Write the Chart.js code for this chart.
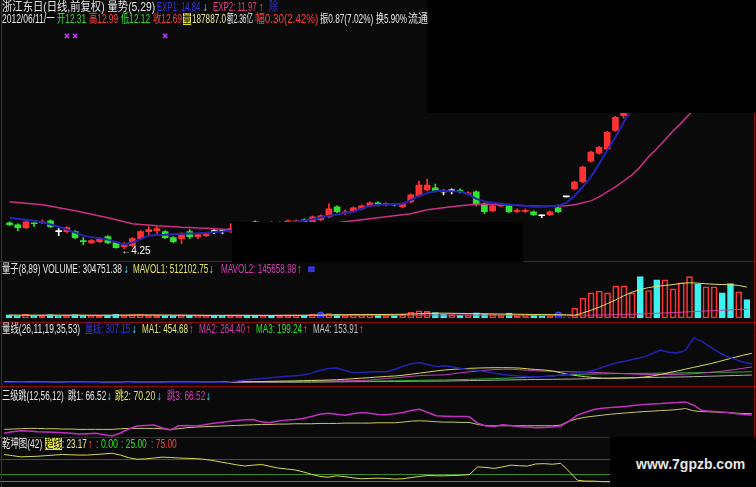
<!DOCTYPE html>
<html><head><meta charset="utf-8">
<script src="https://cdn.jsdelivr.net/npm/chart.js@4.4.1/dist/chart.umd.min.js"></script>
<style>
html,body{margin:0;padding:0;background:#0b0a0a;}
#wrap{position:relative;width:756px;height:487px;overflow:hidden;background:#0b0a0a;font-family:"Liberation Sans","Noto Sans CJK SC",sans-serif;}
canvas{position:absolute;left:0;}
.t{position:absolute;white-space:nowrap;line-height:12px;font-size:12px;transform-origin:0 0;}
.hl{position:absolute;left:0;width:756px;height:1px;background:#8c0c0c;}
.vl{position:absolute;top:0;width:1px;height:487px;background:#8c0c0c;}
.box{position:absolute;background:#000;}
</style></head><body><div id="wrap">
<canvas id="cMain" width="756" height="262" style="top:0px"></canvas>
<canvas id="cVol" width="756" height="61" style="top:262px"></canvas>
<canvas id="cQx" width="756" height="64" style="top:323px"></canvas>
<canvas id="cJump" width="756" height="51" style="top:387px"></canvas>
<canvas id="cQk" width="756" height="49" style="top:438px"></canvas>
<div class="hl" style="top:261px"></div>
<div class="hl" style="top:322px"></div>
<div class="hl" style="top:386px"></div>
<div class="hl" style="top:437px"></div>
<div class="vl" style="left:1px"></div>
<div class="vl" style="left:754px"></div>
<div class="box" style="left:427px;top:0px;width:329px;height:113px"></div>
<div class="box" style="left:232px;top:222px;width:291px;height:40px"></div>
<div class="box" style="left:610px;top:437px;width:146px;height:50px"><div style="position:absolute;left:26px;top:19px;color:#e6e6e6;font:bold 14px 'Liberation Sans',sans-serif">www.7gpzb.com</div></div>
<div id="texts"></div>
</div>
<script>
// ---------- data ----------
const days = Array.from({length: 91}, (_, i) => 'D' + (i + 1));
const open = [5.29,5.21,5.09,5.29,5.29,5.37,4.93,4.93,4.93,4.57,
 4.49,4.53,4.73,4.49,4.33,4.37,4.65,4.93,4.97,4.93,
 4.69,4.65,4.93,4.73,4.77,4.93,4.93,4.93,5.05,5.17,
 5.33,5.21,5.29,5.21,5.29,5.29,5.41,5.33,5.41,5.53,
 5.93,5.69,5.73,5.85,5.97,6.07,6.01,6.05,5.93,6.13,
 6.37,6.61,6.69,6.53,6.57,6.59,6.45,6.53,6.05,5.77,
 5.97,5.97,5.75,5.75,5.73,5.57,5.61,5.89,6.33,6.65,
 6.93,7.77,8.09,8.25,9.01,9.60,10.10,10.70,10.40,11.10,
 10.80,11.50,11.90,12.20,12.60,12.10,12.40,12.70,12.30,12.00,
 12.31];
const high = [5.33,5.25,5.37,5.29,5.41,5.41,5.05,5.13,4.97,4.69,
 4.61,4.69,4.77,4.53,4.49,4.69,4.97,5.13,5.17,4.97,
 4.73,4.89,5.01,4.85,4.89,5.01,5.01,5.25,5.17,5.21,
 5.37,5.29,5.33,5.33,5.41,5.41,5.45,5.57,5.61,6.05,
 5.97,5.81,5.93,6.01,6.13,6.13,6.09,6.07,6.09,6.45,
 6.97,7.05,6.85,6.61,6.65,6.65,6.53,6.57,6.09,6.01,
 6.05,6.01,5.85,5.85,5.77,5.61,5.77,6.01,6.33,6.97,
 7.57,8.17,8.37,8.97,9.57,10.20,10.70,10.90,11.20,11.30,
 11.60,12.00,12.40,12.80,12.70,12.60,12.90,12.80,12.40,12.50,
 12.99];
const low = [5.17,4.97,5.05,5.13,5.25,5.09,4.77,4.89,4.65,4.41,
 4.45,4.49,4.45,4.27,4.25,4.33,4.61,4.81,4.85,4.65,
 4.49,4.45,4.65,4.65,4.73,4.85,4.85,4.89,5.01,5.05,
 5.21,5.17,5.17,5.17,5.25,5.25,5.29,5.29,5.37,5.49,
 5.69,5.61,5.69,5.81,5.93,5.97,5.97,5.97,5.89,6.09,
 6.33,6.57,6.53,6.41,6.45,6.49,6.41,5.97,5.65,5.73,
 5.93,5.69,5.69,5.69,5.57,5.49,5.57,5.69,6.33,6.61,
 6.89,7.73,8.05,8.21,8.97,9.50,10.00,10.30,10.30,10.70,
 10.70,11.30,11.70,12.00,12.00,11.90,12.20,12.20,11.80,11.90,
 12.12];
const close = [5.21,5.09,5.33,5.25,5.33,5.13,4.93,5.09,4.69,4.53,
 4.57,4.65,4.49,4.29,4.45,4.65,4.93,5.01,5.05,4.69,
 4.53,4.85,4.73,4.81,4.85,4.93,4.93,5.05,5.13,5.09,
 5.25,5.25,5.21,5.29,5.37,5.37,5.33,5.53,5.57,5.85,
 5.73,5.73,5.89,5.97,6.09,6.05,6.07,6.01,6.05,6.41,
 6.81,6.81,6.57,6.53,6.57,6.55,6.49,6.05,5.73,5.97,
 6.01,5.73,5.77,5.77,5.61,5.57,5.73,5.73,6.33,6.93,
 7.53,8.13,8.33,8.93,9.53,10.10,10.60,10.40,11.10,10.80,
 11.50,11.90,12.20,12.60,12.10,12.40,12.70,12.30,12.00,12.39,
 12.69];
const exp1 = [5.49,5.45,5.41,5.37,5.31,5.22,5.13,5.01,4.89,4.77,
 4.71,4.66,4.61,4.51,4.41,4.49,4.63,4.77,4.80,4.81,
 4.83,4.85,4.86,4.87,4.89,4.92,4.94,4.97,5.03,5.08,
 5.13,5.17,5.21,5.25,5.29,5.33,5.37,5.43,5.50,5.57,
 5.62,5.68,5.73,5.85,5.97,6.00,6.02,6.04,6.05,6.20,
 6.37,6.48,6.57,6.57,6.56,6.55,6.45,6.25,6.15,6.09,
 6.05,6.02,5.99,5.96,5.93,5.93,5.95,5.97,6.09,6.37,
 6.73,7.13,7.65,8.21,8.73,9.33,9.85,10.30,10.80,11.20,
 11.60,12.00,12.40,12.80,13.10,13.40,13.70,14.00,14.25,14.55,
 14.84];
const exp2 = [6.13,6.10,6.07,6.04,6.01,5.95,5.89,5.83,5.77,5.70,
 5.63,5.56,5.49,5.41,5.33,5.25,5.22,5.20,5.17,5.15,
 5.13,5.11,5.10,5.08,5.07,5.05,5.03,5.01,5.02,5.03,
 5.05,5.06,5.08,5.09,5.12,5.14,5.17,5.20,5.23,5.25,
 5.29,5.33,5.37,5.41,5.45,5.49,5.53,5.57,5.61,5.65,
 5.73,5.81,5.85,5.89,5.93,5.97,6.00,6.03,6.03,6.02,
 6.01,6.00,5.99,5.97,5.96,5.95,5.95,5.96,5.97,6.01,
 6.09,6.17,6.33,6.53,6.73,6.97,7.21,7.53,7.93,8.25,
 8.61,8.97,9.29,9.65,10.00,10.35,10.70,11.00,11.30,11.65,
 11.97];
const topMarks = [7, 8, 19];
const vol = [52000,38000,61000,35000,42000,55000,33000,47000,58000,36000,
 30000,41000,50000,62000,45000,57000,66000,48000,43000,39000,
 35000,52000,44000,31000,34000,37000,33000,49000,45000,40000,
 38000,36000,41000,44000,47000,50000,42000,60000,58000,75000,
 55000,48000,62000,58000,66000,52000,47000,45000,60000,95000,
 120000,110000,90000,60000,55000,50000,52000,85000,70000,58000,
 45000,80000,42000,40000,50000,35000,38000,55000,15000,163000,
 331000,418000,448000,418000,533000,533000,418000,686000,457000,635000,
 635000,483000,585000,686000,559000,518000,518000,418000,570000,433000,
 304751.38];
const volDir = [-1,-1,1,-1,1,-1,-1,1,-1,-1,
 1,1,-1,-1,1,1,1,1,1,-1,
 -1,1,-1,1,1,-1,-1,1,1,-1,
 -1,1,-1,1,1,1,-1,1,1,1,
 -1,1,1,1,1,-1,1,-1,1,1,
 1,1,-1,-1,1,-1,1,-1,-1,1,
 1,-1,1,1,-1,-1,1,-1,1,1,
 1,1,1,1,1,1,1,-1,1,-1,
 1,1,1,1,-1,1,1,-1,-1,1,
 -1];
const mavol1 = [48000,48000,47000,47000,47000,48000,47000,47000,48000,47000,
 46000,45000,46000,47000,48000,49000,50000,50000,49000,48000,
 47000,46000,46000,45000,44000,43000,43000,44000,44000,44000,
 43000,43000,43000,44000,45000,45000,45000,47000,49000,52000,
 53000,54000,55000,56000,57000,57000,58000,60000,62000,66000,
 71000,76000,80000,80000,78000,76000,74000,72000,70000,68000,
 66000,64000,62000,60000,58000,56000,55000,54000,52000,45000,
 85000,130000,180000,240000,300000,370000,430000,470000,505000,525000,
 540000,555000,575000,585000,578000,568000,560000,556000,552000,540000,
 512102.75];
const mavol2 = [44000,44000,44000,44000,44000,45000,45000,45000,45000,45000,
 45000,45000,45000,45000,45000,46000,46000,46000,46000,46000,
 46000,46000,46000,46000,45000,45000,45000,45000,45000,45000,
 45000,45000,45000,45000,45000,45000,45000,45000,45000,46000,
 46000,46000,46000,46000,46000,46000,46000,46000,46000,47000,
 47000,48000,48000,48000,48000,48000,48000,48000,48000,48000,
 48000,48000,48000,48000,47000,47000,47000,46000,46000,46000,
 47000,48000,50000,52000,55000,58000,61000,66000,72000,78000,
 84000,90000,96000,103000,110000,117000,123000,129000,135000,140000,
 145658.98];
const volMarks = [38, 67];
const qxLine = [55,54,56,55,53,54,56,57,55,53,
 52,54,56,58,57,55,56,58,57,56,
 55,54,53,55,56,57,55,58,70,85,
 95,105,115,125,135,145,155,180,215,245,
 250,215,186,190,195,198,200,230,275,310,
 324,300,270,283,265,245,228,215,200,180,
 160,150,140,133,130,132,140,155,165,180,
 195,220,260,300,330,350,380,405,450,500,
 470,460,495,665,620,540,470,410,370,330,
 307.15];
const ma1 = [60,60,59,59,58,58,58,57,57,57,
 56,56,56,57,57,57,58,58,58,58,
 57,57,57,57,58,58,58,59,60,61,
 62,64,66,68,70,72,75,78,81,84,
 88,95,102,110,118,126,134,140,150,165,
 180,195,210,223,232,240,246,250,253,255,
 255,254,250,240,230,223,210,185,160,144,
 130,118,110,108,110,113,116,125,140,160,
 185,209,235,260,285,310,340,370,400,430,
 454.68];
const ma2 = [54,54,54,53,53,53,53,52,52,52,
 52,51,51,51,51,51,52,52,52,52,
 52,52,52,52,52,53,53,53,54,55,
 56,57,58,59,60,62,64,66,68,70,
 72,74,76,78,85,95,105,115,125,135,
 145,150,153,155,170,185,198,210,220,228,
 233,233,228,220,212,208,205,202,199,196,
 193,190,186,181,176,170,165,162,160,160,
 161,163,166,172,180,190,202,215,230,248,
 264.40];
const ma3 = [53,53,52,52,52,52,52,52,51,51,
 51,51,51,51,51,51,51,51,52,52,
 52,52,52,52,52,52,52,52,53,54,
 55,56,57,58,59,60,61,62,63,64,
 65,66,67,68,69,70,72,74,76,78,
 80,82,83,85,88,91,94,97,100,104,
 108,112,116,122,128,134,142,150,158,163,
 166,168,170,172,174,175,176,177,178,179,
 180,182,184,186,188,190,191,192,194,196,
 199.24];
const ma4 = [51,51,51,50,50,50,50,50,50,50,
 49,49,49,49,49,49,49,49,49,49,
 49,49,49,49,50,50,50,50,51,51,
 52,52,53,53,54,55,55,56,57,58,
 59,60,61,62,63,64,65,66,67,68,
 69,69,70,70,72,74,76,78,80,82,
 84,86,88,90,92,93,94,96,97,99,
 102,105,108,110,112,114,116,118,120,122,
 124,126,128,131,134,137,140,144,147,150,
 153.91];
const jump3 = [11,16,19,18,16,15,14,13,11,9,
 10,11,7,3,12,24,33,35,36,28,
 21,34,35,33,36,41,44,47,50,52,
 53,45,44,48,51,53,56,62,69,72,
 69,66,70,74,72,68,67,70,74,80,
 84,74,64,63,62,62,61,42,33,32,
 37,35,31,30,28,29,30,33,48,66,
 75,83,87,89,91,93,96,98,100,101,
 103,104,106,96,80,78,76,74,71,68,
 66.52];
const jump2 = [23,24,25,26,26,25,25,24,24,23,
 23,23,23,23,25,26,26,26,26,25,
 23,25,28,30,31,32,33,34,35,36,
 37,38,38,39,39,40,40,40,41,41,
 41,42,42,42,42,43,43,43,45,48,
 49,48,46,45,45,44,44,38,34,34,
 34,34,34,34,34,34,34,36,48,55,
 60,63,66,69,71,73,75,77,78,80,
 81,83,86,79,77,76,75,74,72,71,
 70.20];
const trend = [92,88,84,85,86,88,90,92,91,90,
 90,92,94,96,90,81,76,77,80,83,
 82,80,79,78,76,72,67,62,57,53,
 56,58,52,46,43,40,33,25,18,15,
 20,17,13,10,11,12,11,9,10,14,
 18,21,20,20,21,22,24,50,48,45,
 50,56,54,53,60,61,59,62,35,5,
 2,2,0,0,0,1,3,5,8,6,
 10,12,15,14,18,20,19,21,22,22,
 23.17];
const qkLevels = [0, 25, 75];

// ---------- styling ----------
const RED = '#ff3232', GREEN = '#2ee62e', WHITE = '#ffffff', CYAN = '#3ef0f0';
const last = a => a[a.length - 1];
const candleColors = close.map((c, i) => c > open[i] ? RED : c < open[i] ? GREEN : WHITE);

function lineDS(data, color, width, order) {
  return {type: 'line', data, borderColor: color, borderWidth: width, pointRadius: 0, tension: 0, fill: false, order, borderJoinStyle: 'round'};
}
function opts(min, max, padTop, padBottom, yExtra) {
  return {
    responsive: false, animation: false, events: [],
    layout: {padding: {top: padTop, bottom: padBottom, left: 0, right: 0}},
    plugins: {legend: {display: false}, tooltip: {enabled: false}},
    scales: {
      x: {type: 'category', display: false, offset: true},
      y: Object.assign({display: false, min, max}, yExtra || {})
    }
  };
}
const lowLabel = {id: 'lowLabel', afterDatasetsDraw(chart) {
  const lo = Math.min(...low), i = low.indexOf(lo);
  const x = chart.scales.x.getPixelForValue(i), y = chart.scales.y.getPixelForValue(lo);
  const ctx = chart.ctx; ctx.save();
  ctx.fillStyle = '#ffffff'; ctx.font = '10px "Liberation Sans"'; ctx.textBaseline = 'top';
  ctx.fillText('\u2190' + lo.toFixed(2), x - 3, y - 2); ctx.restore();
}};

new Chart(document.getElementById('cMain'), {
  type: 'bar',
  data: {labels: days, datasets: [
    lineDS(exp1, '#2424b8', 2, 0),
    lineDS(exp2, '#cc2f86', 1.5, 0),
    {type: 'line', data: days.map((_, i) => topMarks.includes(i) ? 12.81 : null), showLine: false,
     pointStyle: 'crossRot', pointRadius: 3, borderColor: '#c040ff', borderWidth: 1.5, order: 0},
    {type: 'bar', data: open.map((o, i) => [o, close[i]]), backgroundColor: candleColors,
     barThickness: 6, grouped: false, minBarLength: 1, order: 2},
    {type: 'bar', data: low.map((l, i) => [l, high[i]]), backgroundColor: candleColors,
     barThickness: 1, grouped: false, order: 3}
  ]},
  options: opts(3.93, 13.13, 28, 4),
  plugins: [lowLabel]
});

new Chart(document.getElementById('cVol'), {
  type: 'bar',
  data: {labels: days, datasets: [
    lineDS(mavol1, '#e0e060', 1, 0),
    lineDS(mavol2, '#d040a0', 1, 0),
    {type: 'line', data: days.map((_, i) => volMarks.includes(i) ? 40000 : null), showLine: false,
     pointStyle: 'circle', pointRadius: 3.5, backgroundColor: '#2020ff', borderColor: '#5050ff', order: 0},
    {type: 'bar', data: vol, backgroundColor: volDir.map(d => d < 0 ? CYAN : 'rgba(0,0,0,0)'),
     borderColor: volDir.map(d => d < 0 ? CYAN : RED), borderWidth: 1, borderSkipped: false,
     barThickness: 6, grouped: false, order: 2}
  ]},
  options: opts(0, 746760, 11, 1)
});

new Chart(document.getElementById('cQx'), {
  type: 'line',
  data: {labels: days, datasets: [
    lineDS(qxLine, '#2222b4', 1.5, 0),
    lineDS(ma1, '#d8d860', 1, 1),
    lineDS(ma2, '#c040c0', 1, 2),
    lineDS(ma3, '#30b030', 1, 3),
    lineDS(ma4, '#b0b0b0', 1, 4)
  ]},
  options: opts(1.4, 694.4, 13, 1)
});

new Chart(document.getElementById('cJump'), {
  type: 'line',
  data: {labels: days, datasets: [
    lineDS(jump3, '#c030c0', 1.5, 0),
    lineDS(jump2, '#c8c860', 1, 1)
  ]},
  options: opts(0, 111.8, 13, 1)
});

new Chart(document.getElementById('cQk'), {
  type: 'line',
  data: {labels: days, datasets: [lineDS(trend, '#d8d850', 1, 0)]},
  options: opts(-17.9, 110.5, 11, 0, {
    display: true, ticks: {display: false}, border: {display: false},
    grid: {drawTicks: false, lineWidth: 1,
      color: c => c.tick.value === 75 ? '#c01818' : c.tick.value === 25 ? '#3a8a2a' : '#7a7a20'},
    afterBuildTicks: ax => { ax.ticks = qkLevels.map(v => ({value: v})); }
  })
});

// ---------- header texts: [text, colour, left, right(optional fit), background] ----------
const W = '#e6e6e6', B = '#3434d8', P = '#e0408a', Y = '#e6e660', M = '#d040b0', G = '#30e030', GR = '#c0c0c0', C = '#40e0ff', R = '#ff4040';
const prev = close[close.length - 2];
const chg = last(close) - prev, amp = last(high) - last(low);
const rows = [
  [1, [['浙江东日(日线,前复权) 量势(5,29)', W, 2, 155], ['EXP1: ' + last(exp1).toFixed(2), B, 157, 200], ['\u2193', C, 202],
       ['EXP2: ' + last(exp2).toFixed(2), P, 213, 257], ['\u2191', R, 258], ['除', B, 269, 278]]],
  [13, [['2012/06/11/一', W, 2, 55], ['开' + last(open).toFixed(2), G, 57, 86], ['高' + last(high).toFixed(2), R, 89, 118],
        ['低' + last(low).toFixed(2), G, 121, 150], ['收' + last(close).toFixed(2), R, 153, 182],
        ['量', '#000', 183, 191, '#e0e040'], ['187887.0', '#f0f0a0', 192, 226], ['额2.36亿', W, 227, 253],
        ['幅' + chg.toFixed(2) + '(' + (chg / prev * 100).toFixed(2) + '%)', R, 255, 318],
        ['振' + amp.toFixed(2) + '(' + (amp / prev * 100).toFixed(2) + '%)', W, 320, 373], ['换5.90%', W, 376, 407], ['流通', W, 408, 428]]],
  [263, [['量子(8,89) VOLUME: ' + last(vol).toFixed(2), W, 2, 122], ['\u2193', C, 123],
         ['MAVOL1: ' + last(mavol1).toFixed(2), Y, 133, 208], ['\u2193', C, 208],
         ['MAVOL2: ' + last(mavol2).toFixed(2), M, 221, 296], ['\u2191', R, 296], ['\u25A0', B, 307, 315]]],
  [323, [['量线(26,11,19,35,53)', W, 2, 80], ['量线: ' + last(qxLine).toFixed(2), B, 85, 130], ['\u2193', C, 131],
         ['MA1: ' + last(ma1).toFixed(2), Y, 142, 188], ['\u2191', R, 188],
         ['MA2: ' + last(ma2).toFixed(2), M, 199, 245], ['\u2191', R, 245],
         ['MA3: ' + last(ma3).toFixed(2), G, 256, 302], ['\u2191', R, 302],
         ['MA4: ' + last(ma4).toFixed(2), GR, 313, 358], ['\u2191', R, 358]]],
  [390, [['三级跳(12,56,12)', W, 2, 64], ['跳1: ' + last(jump3).toFixed(2), W, 68, 106], ['\u2193', C, 106],
         ['跳2: ' + last(jump2).toFixed(2), Y, 115, 155], ['\u2193', C, 156],
         ['跳3: ' + last(jump3).toFixed(2), M, 167, 205], ['\u2193', C, 205]]],
  [438, [['乾坤图(42)', W, 2, 42], ['趋线', '#000', 45, 62, '#e0e040'], [': ' + last(trend).toFixed(2), '#f0f0a0', 62, 87], ['\u2191', R, 87],
         [': ' + qkLevels[0].toFixed(2), G, 96, 118], [': ' + qkLevels[1].toFixed(2), G, 121, 147], [': ' + qkLevels[2].toFixed(2), R, 151, 177]]]
];
const host = document.getElementById('texts');
rows.forEach(([top, items]) => items.forEach(([txt, col, x, x2, bg]) => {
  const s = document.createElement('div');
  s.className = 't'; s.textContent = txt;
  s.style.cssText = `left:${x}px;top:${top}px;color:${col};` + (bg ? `background:${bg};` : '');
  host.appendChild(s);
  if (x2) { const w = s.offsetWidth; if (w > 0) s.style.transform = `scaleX(${((x2 - x) / w).toFixed(3)})`; }
}));
</script>
</body></html>
